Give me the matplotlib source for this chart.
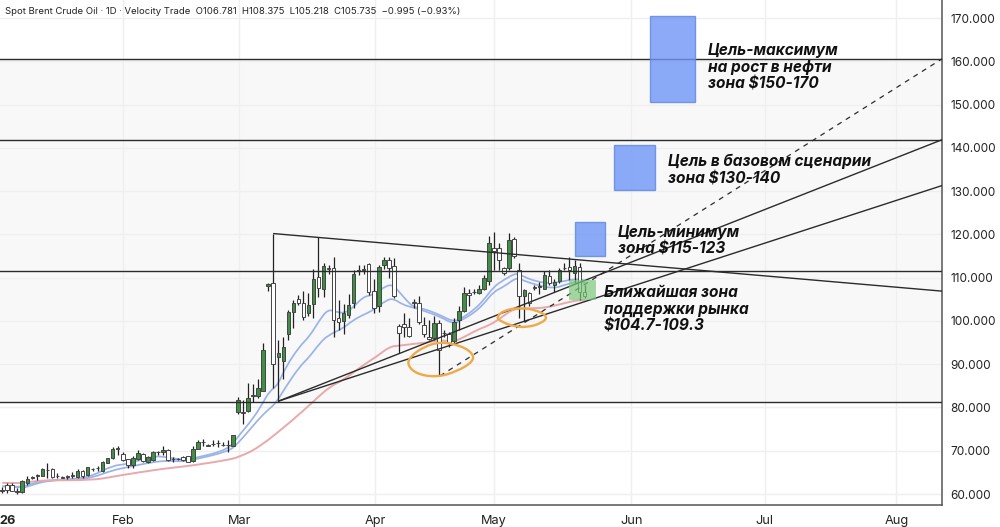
import matplotlib
matplotlib.use("Agg")
import matplotlib.pyplot as plt
from matplotlib.patches import PathPatch, Rectangle
from matplotlib.path import Path

# candles, one value per bar
opens = [60.8, 62.1, 62.1, 60.5, 60.5, 62.6, 63.6, 64.2, 64.2, 65.5, 65.7, 64.2, 63.9, 64.0, 64.2, 64.0, 65.3, 64.4, 65.8, 65.9,
         65.4, 67.2, 68.4, 70.5, 69.3, 68.0, 66.7, 68.2, 69.2, 67.5, 67.9, 69.6, 69.7, 70.2, 68.1, 68.2, 68.6, 68.8, 67.6, 70.4,
         72.0, 71.3, 71.6, 71.7, 71.4, 71.4, 71.1, 78.9, 78.9, 79.2, 82.7, 82.6, 83.9, 108.2, 108.7, 91.7, 90.8, 97.1, 102.1, 105.0,
         104.2, 101.9, 103.9, 110.1, 107.5, 112.2, 112.2, 100.7, 100.0, 101.4, 104.2, 111.6, 111.9, 113.1, 106.9, 103.5, 112.9, 114.2, 112.8, 98.8,
         99.3, 98.7, 104.3, 104.2, 99.0, 96.4, 96.0, 99.6, 97.3, 96.9, 95.4, 100.2, 102.4, 106.5, 106.7, 106.5, 107.3, 109.3, 116.8, 116.8,
         112.2, 112.2, 118.9, 111.9, 105.8, 106.4, 107.7, 107.9, 107.5, 110.4, 108.3, 109.2, 112.3, 112.5, 111.2, 112.5, 106.781]
highs = [61.7, 62.5, 62.6, 61.3, 63.2, 64.2, 64.1, 64.6, 66.1, 67.1, 65.9, 64.8, 64.1, 64.5, 65.0, 65.7, 65.6, 66.2, 66.1, 66.5,
         67.6, 68.4, 70.9, 71.0, 69.6, 68.2, 68.8, 70.1, 69.5, 68.8, 69.9, 70.0, 71.0, 70.3, 68.6, 68.4, 68.8, 68.9, 71.0, 72.4,
         72.8, 71.6, 72.6, 72.6, 72.0, 72.5, 73.7, 82.5, 81.7, 85.6, 85.5, 86.7, 95.0, 108.8, 120.2, 95.6, 96.4, 102.5, 104.8, 106.0,
         107.0, 106.4, 112.0, 119.3, 113.3, 112.9, 114.7, 104.8, 104.0, 106.3, 111.8, 112.9, 112.9, 113.5, 109.8, 112.9, 114.7, 114.7, 114.5, 99.3,
         101.8, 100.6, 105.0, 105.8, 101.0, 100.2, 101.1, 100.2, 97.9, 97.5, 100.6, 103.5, 107.9, 107.5, 107.4, 108.3, 110.6, 119.6, 120.6, 118.1,
         112.5, 120.4, 119.5, 113.5, 107.5, 106.8, 108.3, 109.1, 111.6, 111.8, 109.6, 112.3, 113.5, 114.8, 114.1, 113.5, 108.375]
lows = [60.3, 60.2, 60.6, 60.0, 60.3, 62.0, 63.5, 63.2, 64.1, 63.6, 63.6, 63.8, 63.7, 63.5, 63.6, 63.8, 63.6, 64.2, 65.4, 65.4,
        65.0, 67.1, 68.2, 69.1, 67.6, 66.1, 65.9, 67.9, 67.5, 67.1, 67.7, 69.1, 69.0, 67.7, 67.5, 67.9, 67.7, 67.4, 67.5, 70.3,
        71.2, 71.1, 71.1, 70.8, 71.0, 69.7, 71.0, 78.5, 76.3, 79.0, 81.3, 82.1, 83.7, 106.9, 84.4, 81.3, 86.7, 95.7, 98.3, 103.7,
        100.2, 101.1, 100.7, 105.5, 105.5, 110.9, 96.4, 97.9, 97.1, 100.8, 102.9, 110.6, 110.9, 106.0, 101.8, 102.1, 112.1, 109.9, 105.3, 92.5,
        96.4, 96.4, 103.0, 99.4, 96.4, 95.6, 95.7, 87.5, 96.4, 94.1, 94.7, 97.9, 102.1, 103.5, 106.2, 106.2, 107.1, 108.3, 111.8, 111.8,
        110.6, 111.8, 114.5, 100.8, 100.0, 103.5, 107.1, 106.2, 107.3, 108.3, 106.8, 108.8, 111.8, 109.4, 108.7, 104.9, 105.218]
closes = [61.0, 60.9, 60.8, 60.6, 63.0, 63.4, 64.0, 64.4, 65.7, 65.6, 63.9, 64.1, 63.8, 64.1, 64.3, 65.4, 64.2, 66.2, 65.7, 66.0,
          67.5, 68.4, 70.4, 70.6, 67.9, 66.7, 68.4, 69.5, 67.6, 68.5, 69.6, 69.7, 70.2, 67.9, 68.0, 68.1, 67.9, 67.5, 70.4, 72.1,
          72.1, 71.2, 71.5, 71.8, 71.3, 71.3, 73.6, 81.7, 78.8, 82.3, 82.9, 84.6, 93.3, 108.6, 90.0, 92.7, 93.9, 102.0, 104.1, 104.2,
          101.0, 103.7, 109.8, 107.7, 112.8, 112.1, 100.2, 99.7, 101.8, 103.7, 110.9, 111.8, 112.0, 106.8, 103.1, 112.4, 114.1, 112.2, 105.8, 97.2,
          98.5, 96.5, 104.2, 99.8, 97.0, 95.8, 99.6, 93.4, 97.2, 94.8, 99.8, 102.4, 106.4, 105.9, 106.8, 107.5, 109.9, 118.1, 116.2, 114.2,
          111.0, 118.7, 115.0, 105.8, 107.2, 104.1, 107.8, 108.0, 110.6, 108.7, 109.1, 111.9, 112.2, 111.8, 112.8, 106.8, 105.735]

# moving averages read at a few bars
ma_fast_x = [0, 4, 6, 9, 15, 18, 22, 25, 30, 33, 36, 38, 45, 47, 50, 51.9, 53.2, 54.9, 56.5, 59.2, 61.2, 63.2, 64.9, 66.5, 68.2, 69.9, 71.9, 73.9,
             76.5, 77.9, 79.9, 81.9, 83.9, 87.2, 89.9, 91.5, 93.9, 95.9, 97.9, 99.9, 102.5, 103.9, 106.5, 109.2, 111.9, 114.5, 116.2]
ma_fast = [61.8, 61.5, 62.5, 63.2, 63.5, 64.2, 66.6, 66.9, 68.8, 68.5, 67.9, 68.2, 70.2, 73.3, 77.5, 81.0, 83.7, 85.2, 89.4, 94.1, 96.4, 100.2, 102.7, 102.1, 101.8, 103.1, 105.6, 106.0,
           108.2, 108.3, 105.6, 103.1, 102.9, 101.4, 99.8, 100.6, 102.5, 104.8, 107.9, 109.5, 111.2, 110.2, 109.1, 108.7, 109.2, 109.8, 109.3]
ma_mid_x = [0, 4, 6, 9, 15, 18, 22, 25, 30, 33, 36, 38, 45, 47, 50.9, 52.9, 54.5, 56.5, 59.2, 61.2, 63.2, 64.9, 67.9, 69.9, 71.9, 73.9,
            76.5, 77.9, 79.9, 81.9, 83.9, 87.2, 89.9, 91.5, 93.9, 95.9, 97.9, 99.9, 102.5, 103.9, 106.5, 109.9, 111.9, 114.5, 116.2]
ma_mid = [61.8, 61.3, 62.1, 63.1, 63.4, 63.8, 65.5, 66.2, 67.4, 67.7, 67.5, 67.9, 69.8, 71.7, 77.1, 79.4, 81.0, 84.8, 89.4, 91.7, 94.8, 96.7, 98.3, 100.2, 101.4, 102.5,
          104.8, 105.2, 103.7, 103.1, 102.4, 101.0, 99.3, 100.2, 101.8, 103.9, 106.8, 107.9, 110.1, 109.3, 108.3, 107.5, 108.3, 109.1, 108.8]
ma_slow_x = [0, 3, 6, 9, 18, 22, 24, 30, 34, 38, 45, 47, 51, 57.9, 61.9, 65.2, 67.9, 71.9, 74.5, 77.2, 79.2, 81.9, 84.5, 87.2, 89.9, 91.9, 94.5, 97.2, 99.2, 101.9, 105.2, 108.5, 111.9, 114.5, 116.2]
ma_slow = [62.6, 62.4, 62.9, 63.2, 63.2, 64.0, 64.4, 65.5, 66.1, 66.6, 67.9, 68.5, 70.6, 77.1, 81.3, 84.8, 86.3, 89.8, 91.7, 94.1, 94.3, 94.7, 95.0, 95.6, 95.2, 96.2, 97.9, 99.1, 100.6, 102.9, 102.9, 103.1, 104.1, 104.8, 104.8]

y_ticks = [60, 70, 80, 90, 100, 110, 120, 130, 140, 150, 160, 170]
month_labels = ["26", "Feb", "Mar", "Apr", "May", "Jun", "Jul", "Aug"]
month_bars = [1.0, 24.1, 47.2, 74.3, 98.0, 125.3, 151.9, 178.1]
grid_bars = [24.1, 47.2, 74.3, 98.0, 125.3, 151.9, 178.1]
levels = [160.6, 141.9, 111.6, 81.3]

# drawn trend lines: (bar, price) at both ends
resistance = ([54.1, 187.2], [120.2, 106.9])
support_upper = ([55.1, 187.2], [81.5, 141.9])
support_lower = ([55.1, 187.2], [81.5, 131.3])
support_dashed = ([87.2, 187.2], [87.3, 160.6])

# zones: bar from, bar to, price from, price to
blue_zones = [(129.0, 138.0, 150.6, 170.5), (121.9, 130.0, 130.2, 140.7), (114.0, 120.1, 115.0, 122.8)]
green_zone = (112.9, 118.1, 105.1, 109.5)

loop_1_x = [81.2, 83.9, 87.2, 91.2, 93.8, 93.8, 90.5, 86.6, 82.6, 80.7]
loop_1_y = [91.7, 94.0, 95.2, 94.4, 92.5, 90.6, 88.3, 87.0, 87.7, 89.8]
loop_2_x = [98.4, 99.8, 103.1, 106.5, 108.7, 107.5, 104.5, 101.8, 99.5]
loop_2_y = [100.8, 102.4, 103.1, 102.5, 101.0, 99.5, 98.5, 98.8, 99.8]

GREEN = "#3f8f45"
INK = "#2b2b2b"


def draw_curve(ax, xs, ys, color, lw, zorder, closed=False):
    # smooth curve, the read points act as quadratic control points
    pts = list(zip(xs, ys))
    if closed:
        pairs = list(zip(pts, pts[1:] + pts[:1]))
        mids = [((a[0] + b[0]) / 2, (a[1] + b[1]) / 2) for a, b in pairs]
        verts = [mids[-1]]
        codes = [Path.MOVETO]
        for p, m in zip(pts, mids):
            verts += [p, m]
            codes += [Path.CURVE3, Path.CURVE3]
    else:
        verts = [pts[0]]
        codes = [Path.MOVETO]
        for p, q in zip(pts[1:-1], pts[2:]):
            verts += [p, ((p[0] + q[0]) / 2, (p[1] + q[1]) / 2)]
            codes += [Path.CURVE3, Path.CURVE3]
        verts.append(pts[-1])
        codes.append(Path.LINETO)
    ax.add_patch(PathPatch(Path(verts, codes), fill=False, ec=color, lw=lw, zorder=zorder))


plt.rcParams["font.family"] = ["Inter", "Liberation Sans", "DejaVu Sans"]

fig = plt.figure(figsize=(10, 5.27), dpi=100)
ax = fig.add_axes([0, 1 - 505 / 527, 0.942, 505 / 527])
ax.set_xlim(-0.44, 187.2)
ax.set_ylim(57.46, 174.2)

ax.axhspan(levels[3], levels[0], color="#f8f8f8", lw=0, zorder=0)
ax.set_yticks(y_ticks)
ax.set_yticklabels([f"{v:.3f}" for v in y_ticks])
ax.set_xticks(month_bars)
ax.set_xticklabels(month_labels)
ax.get_xticklabels()[0].set_fontweight("bold")
ax.grid(axis="y", color="#efefef", lw=1)
for b in grid_bars:
    ax.axvline(b, color="#efefef", lw=1, zorder=0.5)
ax.set_axisbelow(True)
ax.yaxis.tick_right()
ax.tick_params(length=0, labelsize=8.5, colors="#222222")
ax.tick_params(axis="x", pad=7, labelsize=9.2)
ax.tick_params(axis="y", pad=6)
for side in ["left", "top"]:
    ax.spines[side].set_visible(False)
for side in ["right", "bottom"]:
    ax.spines[side].set_color("#555555")
    ax.spines[side].set_linewidth(1.1)

for lvl in levels:
    ax.axhline(lvl, color=INK, lw=1.0, zorder=4)

draw_curve(ax, ma_fast_x, ma_fast, "#9ab4e8", 1.25, 2)
draw_curve(ax, ma_mid_x, ma_mid, "#9ab4e8", 1.25, 2)
draw_curve(ax, ma_slow_x, ma_slow, "#e9a9ab", 1.4, 2)

bars = list(range(len(closes)))
body_low = [min(o, c) for o, c in zip(opens, closes)]
body_size = [abs(c - o) for o, c in zip(opens, closes)]
body_colors = [GREEN if c >= o else "white" for o, c in zip(opens, closes)]
ax.vlines(bars, lows, highs, color="#222222", lw=0.9, zorder=3)
ax.bar(bars, body_size, bottom=body_low, width=0.72, color=body_colors, edgecolor="#444444", lw=0.7, zorder=3.5)

for line in [resistance, support_upper, support_lower]:
    ax.plot(line[0], line[1], color=INK, lw=1.0, zorder=4)
ax.plot(support_dashed[0], support_dashed[1], color=INK, lw=0.9, ls=(0, (4, 4)), zorder=4)

for x0, x1, y0, y1 in blue_zones:
    ax.add_patch(Rectangle((x0, y0), x1 - x0, y1 - y0, fc="#6f95f7", ec="#5f85e0", lw=1, alpha=0.8, zorder=5))
x0, x1, y0, y1 = green_zone
ax.add_patch(Rectangle((x0, y0), x1 - x0, y1 - y0, fc="#7cc87c", ec="#7cc87c", lw=0.5, alpha=0.7, zorder=5))

draw_curve(ax, loop_1_x, loop_1_y, "#eda94a", 1.7, 6, closed=True)
draw_curve(ax, loop_2_x, loop_2_y, "#eda94a", 1.7, 6, closed=True)

fig.text(0.005, 1 - 11 / 527, "Spot Brent Crude Oil · 1D · Velocity Trade  O106.781  H108.375  L105.218  C105.735  −0.995 (−0.93%)",
         fontsize=6.85, color="#222222", va="center")

notes = [
    (708, 67, "Цель-максимум\nна рост в нефти\nзона $150-170"),
    (668, 170, "Цель в базовом сценарии\nзона $130-140"),
    (618, 240.5, "Цель-минимум\nзона $115-123"),
    (604, 309, "Ближайшая зона\nподдержки рынка\n$104.7-109.3"),
]
for px, py, label in notes:
    fig.text(px / 1000, 1 - py / 527, label, fontsize=11.1, fontweight="bold", fontstyle="italic",
             color="#111111", va="center", ha="left", linespacing=1.15, zorder=10)

fig.savefig("out.png", dpi=100)
